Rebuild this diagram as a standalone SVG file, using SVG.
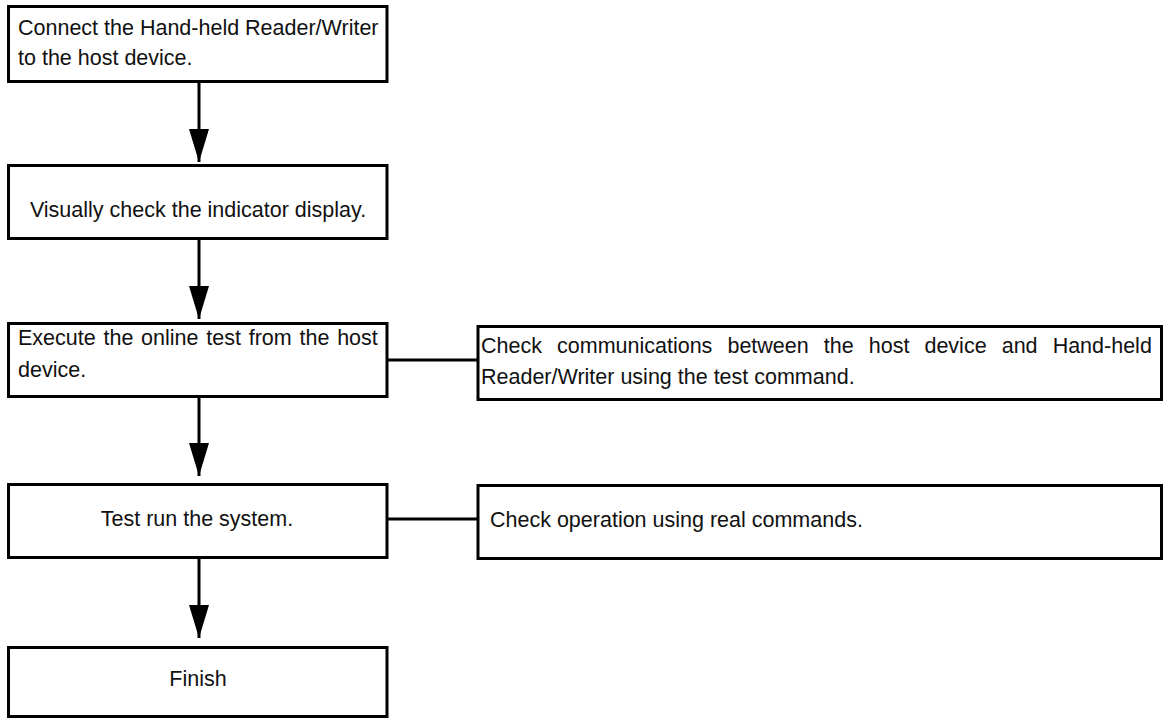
<svg xmlns="http://www.w3.org/2000/svg" width="1168" height="720" viewBox="0 0 1168 720">
<defs>
<style>
.box{fill:#fff;stroke:#000;stroke-width:3}
.t{font-family:"Liberation Sans",Arial,Helvetica,sans-serif;font-size:21.5px;fill:#111}
.c{text-anchor:middle}
.ln{stroke:#000;stroke-width:3;fill:none}
</style>
<marker id="ah" markerUnits="userSpaceOnUse" viewBox="0 0 33 20" refX="33" refY="10" markerWidth="33" markerHeight="20" orient="auto">
<path d="M0,0 L33,10 L0,20 z" fill="#000"/>
</marker>
</defs>
<rect width="1168" height="720" fill="#fff"/>
<g id="connectors">
<line class="ln" x1="199" y1="82" x2="199" y2="162" marker-end="url(#ah)"/>
<line class="ln" x1="199" y1="239" x2="199" y2="319" marker-end="url(#ah)"/>
<line class="ln" x1="199" y1="397" x2="199" y2="476" marker-end="url(#ah)"/>
<line class="ln" x1="199" y1="558" x2="199" y2="638" marker-end="url(#ah)"/>
<line class="ln" x1="387" y1="360" x2="478" y2="360"/>
<line class="ln" x1="387" y1="519" x2="478" y2="519"/>
</g>
<g id="n1">
<rect class="box" x="8.5" y="6.5" width="378.5" height="75"/>
<text class="t" x="18" y="35">Connect the Hand-held Reader/Writer</text>
<text class="t" x="18" y="65">to the host device.</text>
</g>
<g id="n2">
<rect class="box" x="8.5" y="165.5" width="378.5" height="73"/>
<text class="t c" x="198" y="217">Visually check the indicator display.</text>
</g>
<g id="n3">
<rect class="box" x="8.5" y="323.5" width="378.5" height="73"/>
<text class="t" x="18" y="345" word-spacing="1.8">Execute the online test from the host</text>
<text class="t" x="18" y="377">device.</text>
</g>
<g id="n4">
<rect class="box" x="8.5" y="484.5" width="378.5" height="73"/>
<text class="t c" x="197" y="526">Test run the system.</text>
</g>
<g id="n5">
<rect class="box" x="8.5" y="647.5" width="378.5" height="69"/>
<text class="t c" x="198" y="686">Finish</text>
</g>
<g id="n6">
<rect class="box" x="478" y="326.5" width="683.5" height="73"/>
<text class="t" x="481" y="353" word-spacing="9.1">Check communications between the host device and Hand-held</text>
<text class="t" x="481" y="384">Reader/Writer using the test command.</text>
</g>
<g id="n7">
<rect class="box" x="478" y="485.5" width="683.5" height="73"/>
<text class="t" x="490" y="527">Check operation using real commands.</text>
</g>
</svg>
